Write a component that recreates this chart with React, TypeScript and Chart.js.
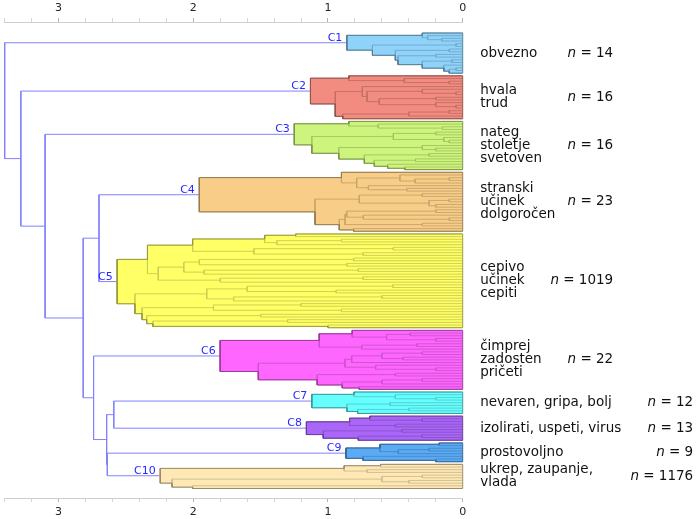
import React, { useEffect, useRef } from "react";
import { Chart, registerables } from "chart.js";

Chart.register(...registerables);

// ---------------- data ----------------
const clusterIds = ["C1", "C2", "C3", "C4", "C5", "C6", "C7", "C8", "C9", "C10"];
const clusterKeywords: string[][] = [
  ["obvezno"],
  ["hvala", "trud"],
  ["nateg", "stoletje", "svetoven"],
  ["stranski", "učinek", "dolgoročen"],
  ["cepivo", "učinek", "cepiti"],
  ["čimprej", "zadosten", "pričeti"],
  ["nevaren, gripa, bolj"],
  ["izolirati, uspeti, virus"],
  ["prostovoljno"],
  ["ukrep, zaupanje,", "vlada"],
];
const clusterSizes = [14, 16, 16, 23, 1019, 22, 12, 13, 9, 1176];
const clusterFill = [
  "#8fd2fa", "#f28b80", "#cdf47c", "#f8cd88", "#ffff66",
  "#ff66ff", "#66ffff", "#aa66f8", "#5aaaf5", "#ffe8b4",
];

// merge height between each pair of adjacent leaves inside a cluster
const gapsC1 = [0.30, 0.26, 0.156, 0.86, 0.05, 0.67, 0.10, 0.50, 0.20, 0.48, 0.08, 0.30, 0.14, 0.05, 0.10];
const gapsC2 = [0.845, 0.435, 0.10, 1.13, 0.745, 0.30, 0.05, 0.71, 0.2, 0.62, 0.2, 0.05, 0.946, 0.1, 0.4, 0.89];
const gapsC3 = [0.845, 0.627, 0.15, 1.25, 0.20, 0.515, 0.14, 0.10, 1.12, 0.30, 0.20, 0.92, 0.25, 0.73, 0.35, 0.656, 0.557, 0.43];
const gapsC4 = [0.90, 0.466, 0.10, 0.354, 0.787, 0.70, 0.416, 1.955, 0.30, 0.768, 0.10, 0.25, 0.20, 1.096, 0.20, 0.86, 0.738, 0.10, 0.874, 0.30, 0.916, 0.81];
const gapsC5 = [1.24, 1.47, 0.9, 1.38, 2.005, 0.515, 1.55, 0.74, 2.34, 0.81, 1.955, 0.86, 2.07, 0.775, 1.92, 2.26, 0.74, 1.8, 2.565, 0.52, 1.6, 0.94, 1.9, 0.6, 1.7, 2.433, 1.2, 1.85, 0.9, 2.38, 1.5, 2.346, 1.3, 2.30, 1.0];
const gapsC6 = [0.82, 0.39, 0.565, 0.20, 1.065, 0.34, 0.75, 1.80, 0.3, 0.6, 0.445, 0.824, 0.874, 0.646, 0.2, 1.517, 0.5, 1.08, 0.3, 0.6, 0.894, 0.768];
const gapsC7 = [0.807, 0.50, 0.2, 1.12, 0.54, 0.86, 0.4, 0.78];
const gapsC8 = [0.69, 0.3, 0.84, 0.5, 1.16, 0.45, 1.035, 0.3, 0.775];
const gapsC9 = [0.174, 0.614, 0.25, 0.478, 0.866, 0.74, 0.2];
const gapsC10 = [0.61, 0.88, 0.71, 2.245, 0.3, 0.6, 0.4, 2.158, 2.005];
const clusterGaps = [gapsC1, gapsC2, gapsC3, gapsC4, gapsC5, gapsC6, gapsC7, gapsC8, gapsC9, gapsC10];

// merge height between adjacent clusters (C1|C2, C2|C3, ...)
const clusterLinkHeights = [3.40, 3.28, 3.10, 2.70, 2.817, 2.74, 2.59, 2.643, 2.638];

const xTickStep = 0.2;
const xMax = 3.405;

// ---------------- tree building ----------------
type TNode = { lo: number; hi: number; h: number; pos: number; left?: TNode; right?: TNode };

function buildDendrogram() {
  const gaps: number[] = [];
  const clusterOfLeaf: number[] = [];
  const ranges: [number, number][] = [];
  let idx = 0;
  clusterGaps.forEach((g, k) => {
    const start = idx;
    for (let i = 0; i <= g.length; i++) clusterOfLeaf.push(k);
    g.forEach((v) => gaps.push(v));
    idx += g.length + 1;
    ranges.push([start, idx - 1]);
    if (k < clusterGaps.length - 1) gaps.push(clusterLinkHeights[k]);
  });
  const build = (lo: number, hi: number): TNode => {
    if (lo === hi) return { lo, hi, h: 0, pos: lo };
    let m = lo;
    for (let i = lo; i < hi; i++) if (gaps[i] > gaps[m]) m = i;
    const left = build(lo, m);
    const right = build(m + 1, hi);
    return { lo, hi, h: gaps[m], pos: (left.pos + right.pos) / 2, left, right };
  };
  const root = build(0, idx - 1);
  const internal: TNode[] = [];
  const walk = (n: TNode) => {
    if (n.left && n.right) {
      internal.push(n);
      walk(n.left);
      walk(n.right);
    }
  };
  walk(root);
  return { root, internal, ranges, clusterOfLeaf, leafCount: idx };
}

function shade(hex: string, f: number, a = 1) {
  const n = parseInt(hex.slice(1), 16);
  const r = Math.round(((n >> 16) & 255) * f);
  const g = Math.round(((n >> 8) & 255) * f);
  const b = Math.round((n & 255) * f);
  return `rgba(${r},${g},${b},${a})`;
}

const FONT = '"DejaVu Sans", "Liberation Sans", sans-serif';

export default function App() {
  const ref = useRef<HTMLCanvasElement>(null);

  useEffect(() => {
    if (!ref.current) return;
    const { internal, ranges, clusterOfLeaf, leafCount } = buildDendrogram();
    const nc = clusterGaps.length;
    const clusterOf = (n: TNode) =>
      clusterOfLeaf[n.lo] === clusterOfLeaf[n.hi] ? clusterOfLeaf[n.lo] : -1;

    const segs: { x: number | null; y: number | null }[][] = [];
    for (let k = 0; k <= nc; k++) segs.push([]);
    const rects: [number, number, number][][] = [];
    for (let k = 0; k < nc; k++) rects.push([]);
    const clusterRoots: TNode[] = [];

    internal.forEach((n) => {
      const k = clusterOf(n);
      const L = n.left!, R = n.right!;
      const arr = k >= 0 ? segs[k] : segs[nc];
      arr.push({ x: L.h, y: L.pos }, { x: n.h, y: L.pos }, { x: n.h, y: R.pos }, { x: R.h, y: R.pos }, { x: null, y: null });
      if (k >= 0) {
        rects[k].push([L.pos, R.pos, n.h]);
        if (n.lo === ranges[k][0] && n.hi === ranges[k][1]) clusterRoots[k] = n;
      }
    });

    const polys = rects.map((rs) => {
      const bps = Array.from(new Set(rs.flatMap((r) => [r[0], r[1]]))).sort((a, b) => a - b);
      const pts: { x: number; y: number }[] = [{ x: 0, y: bps[0] }];
      for (let i = 0; i < bps.length - 1; i++) {
        const a = bps[i], b = bps[i + 1];
        let w = 0;
        rs.forEach((r) => {
          if (r[0] <= a + 1e-9 && r[1] >= b - 1e-9) w = Math.max(w, r[2]);
        });
        pts.push({ x: w, y: a }, { x: w, y: b });
      }
      pts.push({ x: 0, y: bps[bps.length - 1] }, { x: 0, y: bps[0] });
      return pts;
    });

    const datasets: any[] = [];
    for (let k = 0; k < nc; k++) {
      datasets.push({
        data: polys[k], fill: "shape", backgroundColor: clusterFill[k],
        borderColor: "rgba(0,0,0,0)", borderWidth: 0, pointRadius: 0, order: 3, clip: false,
      });
      datasets.push({
        data: segs[k], fill: false, borderColor: shade(clusterFill[k], 0.8, 0.9),
        borderWidth: 1, pointRadius: 0, order: 2, clip: false, spanGaps: false,
      });
      datasets.push({
        data: polys[k], fill: false, borderColor: shade(clusterFill[k], 0.6, 0.95),
        borderWidth: 1, pointRadius: 0, order: 1, clip: false,
      });
    }
    datasets.push({
      data: segs[nc], fill: false, borderColor: "#8282ff", borderWidth: 1,
      pointRadius: 0, order: 2, clip: false, spanGaps: false,
    });

    const isMajor = (v: number) => Math.abs(v - Math.round(v)) < 1e-6;
    const xAxis = (position: string, padding: number, height: number) => ({
      type: "linear",
      position,
      reverse: true,
      min: 0,
      max: xMax,
      grid: {
        drawOnChartArea: false,
        drawTicks: true,
        tickLength: 4,
        tickColor: (c: any) => (c.tick && isMajor(c.tick.value) ? "#b4b4b4" : "#d6d6d6"),
      },
      border: { display: true, color: "#cfcfcf", width: 1 },
      ticks: {
        stepSize: xTickStep,
        autoSkip: false,
        maxRotation: 0,
        includeBounds: false,
        padding,
        color: "#222",
        font: { family: FONT, size: 11 },
        callback: (v: any) => (isMajor(Number(v)) ? String(Math.round(Number(v))) : ""),
      },
      afterFit: (s: any) => {
        s.height = height;
      },
    });

    const sizeColumn = [0, 0, 0, 0, 0, 0, 1, 1, 1, 1];

    const labelPlugin = {
      id: "dendroLabels",
      afterDatasetsDraw(chart: any) {
        const ctx = chart.ctx;
        const xs = chart.scales.x;
        const ys = chart.scales.y;
        const area = chart.chartArea;
        ctx.save();
        // cluster ids
        ctx.font = `11px ${FONT}`;
        ctx.fillStyle = "#2828ff";
        ctx.textAlign = "right";
        ctx.textBaseline = "alphabetic";
        clusterRoots.forEach((n, k) => {
          ctx.fillText(clusterIds[k], xs.getPixelForValue(n.h) - 4.5, ys.getPixelForValue(n.pos) - 2);
        });
        // keywords and sizes
        ctx.fillStyle = "#111";
        ctx.textBaseline = "middle";
        const lineGap = 13;
        ranges.forEach((r, k) => {
          const cy = ys.getPixelForValue((r[0] + r[1]) / 2);
          const lines = clusterKeywords[k];
          ctx.font = `13.5px ${FONT}`;
          ctx.textAlign = "left";
          lines.forEach((t, i) => {
            ctx.fillText(t, area.right + 17.5, cy + (i - (lines.length - 1) / 2) * lineGap);
          });
          const xr = area.right + (sizeColumn[k] ? 230.5 : 150.5);
          const rest = " = " + clusterSizes[k];
          ctx.textAlign = "right";
          ctx.fillText(rest, xr, cy);
          const wRest = ctx.measureText(rest).width;
          ctx.font = `italic 13.5px ${FONT}`;
          ctx.fillText("n", xr - wRest, cy);
        });
        ctx.restore();
      },
    };

    const chart = new Chart(ref.current, {
      type: "line",
      data: { datasets },
      options: {
        responsive: false,
        devicePixelRatio: 1,
        animation: false,
        events: [],
        layout: { padding: { left: 4, right: 237.3, top: 0, bottom: 0 } },
        plugins: { legend: { display: false }, tooltip: { enabled: false } },
        elements: { line: { tension: 0 } },
        scales: {
          x: xAxis("bottom", 4, 21) as any,
          x2: xAxis("top", 3, 22) as any,
          y: {
            type: "linear",
            display: false,
            reverse: true,
            min: -4.1,
            max: leafCount - 1 + 3.55,
          },
        },
      } as any,
      plugins: [labelPlugin],
    });
    return () => chart.destroy();
  }, []);

  return (
    <div style={{ position: "fixed", left: 0, top: 0, width: 700, height: 519, background: "#fff" }}>
      <canvas ref={ref} width={700} height={519} style={{ display: "block", width: 700, height: 519 }} />
    </div>
  );
}
